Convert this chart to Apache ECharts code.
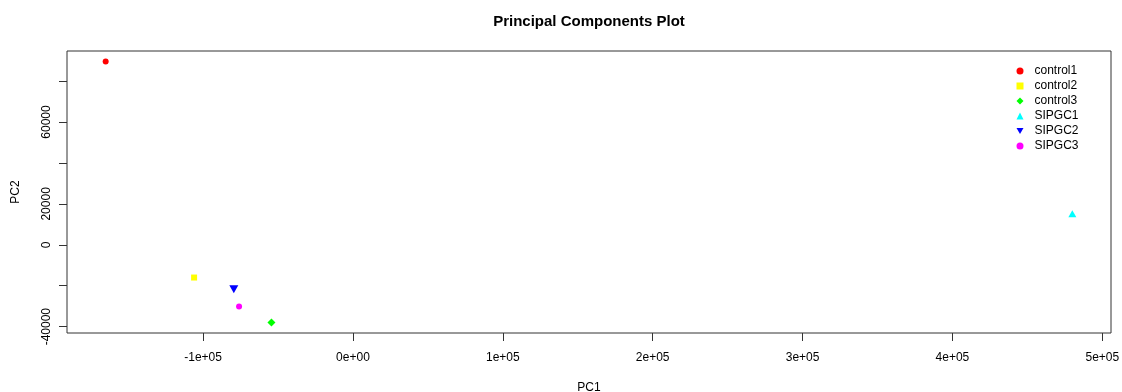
<!DOCTYPE html>
<html>
<head>
<meta charset="utf-8">
<script src="https://cdn.jsdelivr.net/npm/echarts@6/dist/echarts.min.js"></script>
<style>
  html, body { margin: 0; padding: 0; background: #fff; }
  #chart { width: 1122px; height: 392px; }
</style>
</head>
<body>
<div id="chart"></div>
<script>
// ---- data ----
const sampleNames = ['control1', 'control2', 'control3', 'SIPGC1', 'SIPGC2', 'SIPGC3'];
const pc1Values = [-165000, -106000, -54400, 480000, -79500, -76000];
const pc2Values = [89600, -16000, -38000, 15200, -21750, -30100];
const sampleColors = ['#FF0000', '#FFFF00', '#00FF00', '#00FFFF', '#0000FF', '#FF00FF'];
const sampleSymbols = ['circle', 'rect', 'diamond', 'triangle', 'path://M0,0L10,0L5,8.66Z', 'circle'];
const sampleSizes = [6, 6, [8, 8], [8, 7], [9, 8], 6];

const xTickValues = [-100000, 0, 100000, 200000, 300000, 400000, 500000];
const xTickLabels = ['-1e+05', '0e+00', '1e+05', '2e+05', '3e+05', '4e+05', '5e+05'];
const yTickValues = [-40000, -20000, 0, 20000, 40000, 60000, 80000];
const yLabelValues = [-40000, 0, 20000, 60000];

// R-style axis range: data range extended by 4% on each side
function rRange(vals) {
  const lo = Math.min.apply(null, vals), hi = Math.max.apply(null, vals);
  const pad = (hi - lo) * 0.04;
  return [lo - pad, hi + pad];
}
const xr = rRange(pc1Values);
const yr = rRange(pc2Values);

const FONT = "'Liberation Sans', Arial, sans-serif";
const chart = echarts.init(document.getElementById('chart'), null, { renderer: 'canvas' });

const series = sampleNames.map((name, i) => ({
  name: name,
  type: 'scatter',
  symbol: sampleSymbols[i],
  symbolSize: sampleSizes[i],
  symbolKeepAspect: false,
  itemStyle: { color: sampleColors[i], opacity: 1 },
  data: [[pc1Values[i], pc2Values[i]]]
}));

chart.setOption({
  animation: false,
  backgroundColor: '#fff',
  textStyle: { fontFamily: FONT },
  title: {
    text: 'Principal Components Plot',
    left: 589,
    top: 14,
    padding: 0,
    textAlign: 'center',
    textStyle: { fontSize: 15, fontWeight: 'bold', color: '#000', fontFamily: FONT }
  },
  legend: {
    orient: 'vertical',
    left: 1016.5,
    top: 65,
    padding: 0,
    itemWidth: 7,
    itemHeight: 7,
    itemGap: 3,
    selectedMode: false,
    data: sampleNames.map((n, i) => ({ name: n, icon: sampleSymbols[i] })),
    textStyle: { fontSize: 12, color: '#000', fontFamily: FONT, padding: [0, 0, 0, 6], lineHeight: 12 }
  },
  grid: {
    left: 67, right: 11, top: 51, bottom: 59,
    outerBoundsMode: 'none',
    containLabel: false,
    show: true, borderColor: '#333', borderWidth: 1, backgroundColor: 'transparent'
  },
  xAxis: {
    type: 'value',
    min: xr[0], max: xr[1],
    name: 'PC1',
    nameLocation: 'middle',
    nameGap: 49,
    nameTextStyle: { fontSize: 12, color: '#000', fontFamily: FONT },
    axisLine: { show: false, onZero: false },
    splitLine: { show: false },
    axisTick: { show: true, length: 8, lineStyle: { color: '#333' }, customValues: xTickValues },
    axisLabel: {
      fontSize: 12, color: '#000', margin: 19, fontFamily: FONT,
      customValues: xTickValues,
      formatter: v => {
        const k = xTickValues.indexOf(v);
        return k >= 0 ? xTickLabels[k] : '';
      }
    }
  },
  yAxis: {
    type: 'value',
    min: yr[0], max: yr[1],
    name: 'PC2',
    nameLocation: 'middle',
    nameGap: 45,
    nameRotate: 90,
    nameTextStyle: { fontSize: 12, color: '#000', fontFamily: FONT },
    axisLine: { show: false, onZero: false },
    splitLine: { show: false },
    axisTick: { show: true, length: 8, lineStyle: { color: '#333' }, customValues: yTickValues },
    axisLabel: {
      fontSize: 12, color: '#000', margin: 14, rotate: 90, fontFamily: FONT,
      customValues: yLabelValues,
      formatter: v => String(v)
    }
  },
  series: series
});
</script>
</body>
</html>
